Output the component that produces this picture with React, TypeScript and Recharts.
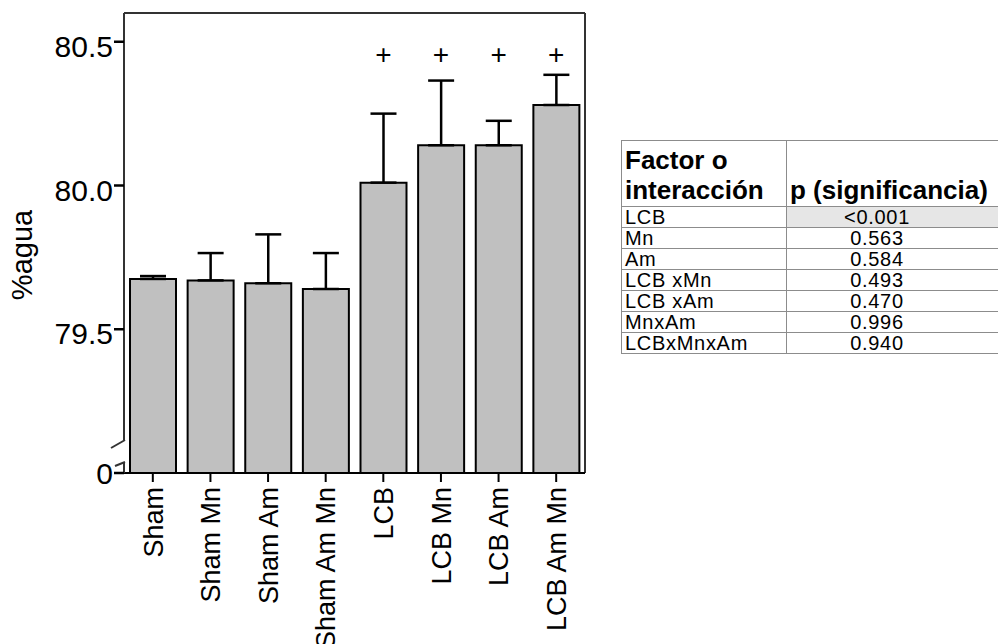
import React from 'react';
import { BarChart, Bar, XAxis, YAxis, ErrorBar, ReferenceDot, ReferenceLine, Label } from 'recharts';

const FONT = '"Liberation Sans", Arial, Helvetica, sans-serif';

// group means (% water) and upper SEM
const groups = ['Sham', 'Sham Mn', 'Sham Am', 'Sham Am Mn', 'LCB', 'LCB Mn', 'LCB Am', 'LCB Am Mn'];
const waterPct = [79.675, 79.67, 79.66, 79.64, 80.01, 80.14, 80.14, 80.28];
const semUp = [0.01, 0.095, 0.17, 0.125, 0.24, 0.225, 0.085, 0.105];
const yTicks = [79, 79.5, 80, 80.5];
const yDomain = [79, 80.6];

// "+" marks over the LCB groups
const marked = ['LCB', 'LCB Mn', 'LCB Am', 'LCB Am Mn'];
const markLevel = 80.455;

// ANOVA table
const factors = ['LCB', 'Mn', 'Am', 'LCB xMn', 'LCB xAm', 'MnxAm', 'LCBxMnxAm'];
const pValues = ['<0.001', '0.563', '0.584', '0.493', '0.470', '0.996', '0.940'];

const data = groups.map((name, i) => ({
    name,
    value: waterPct[i],
    err: [0, semUp[i]],
}));

const Y_TICK = 10;
const Y_GAP = 1;

function YTick(props: any) {
    const { x, y, payload } = props;
    const ax = x + Y_TICK + Y_GAP;
    if (payload.value === yTicks[0]) {
        // broken axis near zero
        return (
            <g>
                <rect x={ax - 4} y={y - 33} width={7} height={22} fill="#fff" />
                <line x1={ax - 13} y1={y - 25} x2={ax + 1} y2={y - 33} stroke="#333" strokeWidth={2} />
                <line x1={ax - 9} y1={y - 7} x2={ax + 1} y2={y - 11} stroke="#333" strokeWidth={2} />
                <text x={x} y={y + 11} textAnchor="end" fontSize={30} fontFamily={FONT} fill="#000">
                    0
                </text>
            </g>
        );
    }
    return (
        <text x={x} y={y + 15} textAnchor="end" fontSize={30} fontFamily={FONT} fill="#000">
            {payload.value.toFixed(1)}
        </text>
    );
}

function XTick(props: any) {
    const { x, y, payload } = props;
    return (
        <text
            x={x}
            y={y}
            dy="0.36em"
            transform={`rotate(-90 ${x} ${y})`}
            textAnchor="end"
            fontSize={27}
            fontFamily={FONT}
            fill="#000"
        >
            {payload.value}
        </text>
    );
}

function PlusMark(props: any) {
    const { cx, cy } = props;
    return (
        <text x={cx} y={cy} dy="0.34em" textAnchor="middle" fontSize={28} fontFamily={FONT} fill="#000">
            +
        </text>
    );
}

const cell: React.CSSProperties = {
    border: '1.5px solid #8c8c8c',
    padding: '0 3px',
    height: 20,
    lineHeight: '20px',
    whiteSpace: 'nowrap',
    overflow: 'visible',
};

const head: React.CSSProperties = {
    ...cell,
    height: 64,
    lineHeight: '30px',
    fontSize: 26,
    letterSpacing: 0,
    fontWeight: 'bold',
    verticalAlign: 'bottom',
    paddingBottom: 1,
};

export default function App() {
    return (
        <div
            style={{
                position: 'fixed',
                left: 0,
                top: 0,
                width: 998,
                height: 644,
                overflow: 'hidden',
                background: '#fff',
            }}
        >
            <BarChart width={600} height={644} data={data} margin={{ top: 13, right: 15, bottom: 0, left: 0 }}>
                <XAxis
                    dataKey="name"
                    height={171}
                    interval={0}
                    tick={<XTick />}
                    tickSize={9}
                    tickMargin={5}
                    tickLine={{ stroke: '#000', strokeWidth: 2 }}
                    axisLine={{ stroke: '#000', strokeWidth: 2 }}
                />
                <YAxis
                    type="number"
                    width={124}
                    domain={yDomain}
                    ticks={yTicks}
                    interval={0}
                    allowDataOverflow
                    tick={<YTick />}
                    tickSize={Y_TICK}
                    tickMargin={Y_GAP}
                    tickLine={{ stroke: '#000', strokeWidth: 2.5 }}
                    axisLine={{ stroke: '#333', strokeWidth: 2 }}
                >
                    <Label
                        content={(p: any) => {
                            const vb = p.viewBox || { x: 0, y: 13, width: 124, height: 460 };
                            const cy = vb.y + vb.height / 2 + 12;
                            return (
                                <text
                                    x={22}
                                    y={cy}
                                    dy="0.35em"
                                    transform={`rotate(-90 22 ${cy})`}
                                    textAnchor="middle"
                                    fontSize={29}
                                    fontFamily={FONT}
                                    fill="#000"
                                >
                                    %agua
                                </text>
                            );
                        }}
                    />
                </YAxis>
                {/* frame: top and right edges of the plot box */}
                <ReferenceLine y={yDomain[1]} stroke="#333" strokeWidth={2} />
                <ReferenceLine x={groups[groups.length - 1]} position="end" stroke="#333" strokeWidth={2} />
                <Bar dataKey="value" fill="#c0c0c0" stroke="#000" strokeWidth={2} barSize={46} isAnimationActive={false}>
                    <ErrorBar dataKey="err" width={13} stroke="#000" strokeWidth={2.5} isAnimationActive={false} />
                </Bar>
                {marked.map((g) => (
                    <ReferenceDot key={g} x={g} y={markLevel} r={0} shape={PlusMark} />
                ))}
            </BarChart>

            <table
                style={{
                    position: 'absolute',
                    left: 621,
                    top: 140,
                    borderCollapse: 'collapse',
                    tableLayout: 'fixed',
                    width: 405,
                    fontFamily: FONT,
                    fontSize: 20,
                    letterSpacing: 0.7,
                    color: '#000',
                }}
            >
                <colgroup>
                    <col style={{ width: 165 }} />
                    <col style={{ width: 240 }} />
                </colgroup>
                <tbody>
                    <tr>
                        <td style={head}>
                            Factor o
                            <br />
                            interacción
                        </td>
                        <td style={head}>p (significancia)</td>
                    </tr>
                    {factors.map((f, i) => (
                        <tr key={f}>
                            <td style={cell}>{f}</td>
                            <td
                                style={{
                                    ...cell,
                                    textAlign: 'center',
                                    paddingRight: 62,
                                    background: i === 0 ? '#e6e6e6' : '#fff',
                                }}
                            >
                                {pValues[i]}
                            </td>
                        </tr>
                    ))}
                </tbody>
            </table>
        </div>
    );
}
